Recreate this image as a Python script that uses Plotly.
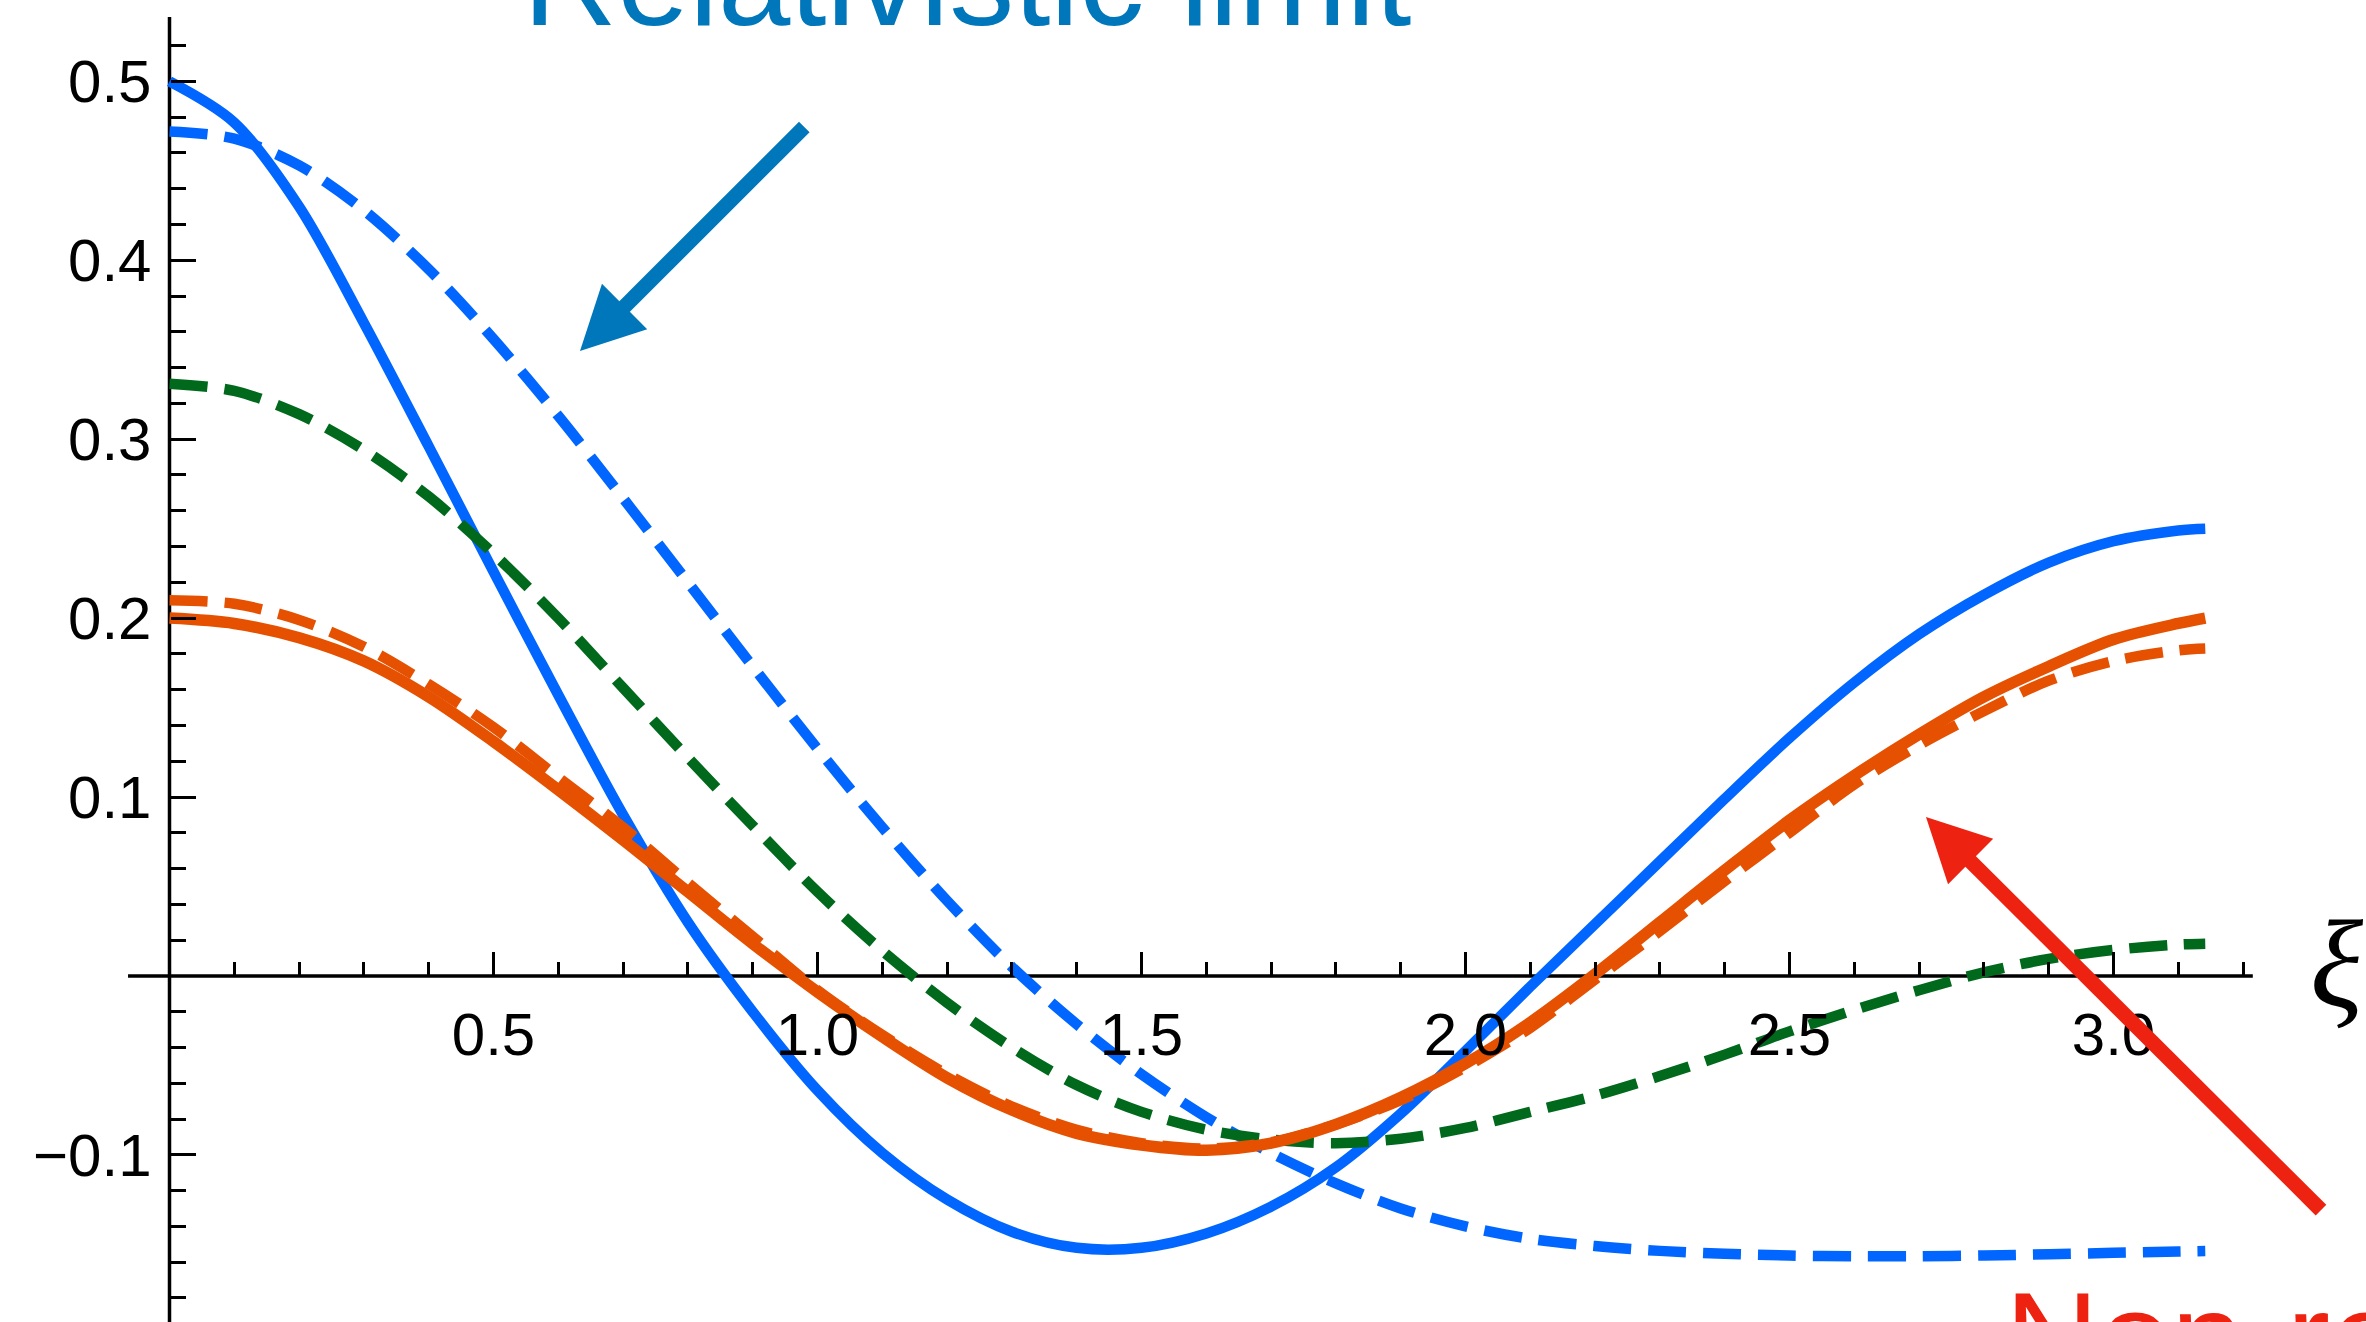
import plotly.graph_objects as go

# ---- curve data: common xi grid from 0 to pi ----
xi = [0.0, 0.1, 0.2, 0.3, 0.4, 0.5, 0.6, 0.7, 0.8, 0.9,
      1.0, 1.1, 1.2, 1.3, 1.4, 1.5, 1.6, 1.7, 1.8, 1.9,
      2.0, 2.1, 2.2, 2.3, 2.4, 2.5, 2.6, 2.7, 2.8, 2.9,
      3.0, 3.1, 3.1416]

f_rel_solid = [0.500, 0.477, 0.430, 0.365, 0.296, 0.226, 0.157, 0.090, 0.030, -0.020,
               -0.064, -0.099, -0.125, -0.143, -0.152, -0.152, -0.144, -0.129, -0.107, -0.077,
               -0.042, -0.006, 0.029, 0.064, 0.099, 0.133, 0.164, 0.191, 0.213, 0.231,
               0.243, 0.249, 0.250]

f_rel_dash = [0.472, 0.468, 0.453, 0.428, 0.395, 0.356, 0.313, 0.267, 0.220, 0.173,
              0.127, 0.083, 0.042, 0.005, -0.027, -0.055, -0.079, -0.099, -0.116, -0.130,
              -0.140, -0.147, -0.151, -0.1537, -0.1553, -0.1563, -0.1567, -0.1567, -0.1563, -0.1556,
              -0.1548, -0.1541, -0.1538]

f_mid_dash = [0.331, 0.327, 0.314, 0.294, 0.268, 0.236, 0.200, 0.161, 0.122, 0.084,
              0.047, 0.014, -0.015, -0.040, -0.061, -0.076, -0.086, -0.0915, -0.0935, -0.091,
              -0.085, -0.076, -0.067, -0.056, -0.044, -0.031, -0.019, -0.008, 0.002, 0.0095,
              0.0145, 0.0175, 0.018]

f_nr_solid = [0.200, 0.197, 0.189, 0.176, 0.156, 0.131, 0.104, 0.076, 0.047, 0.018,
              -0.009, -0.034, -0.057, -0.075, -0.088, -0.0945, -0.0975, -0.0935, -0.083, -0.068,
              -0.049, -0.026, 0.001, 0.030, 0.059, 0.087, 0.112, 0.135, 0.156, 0.173,
              0.188, 0.197, 0.200]

f_nr_dash = [0.210, 0.208, 0.199, 0.184, 0.163, 0.139, 0.111, 0.083, 0.052, 0.022,
             -0.008, -0.033, -0.055, -0.073, -0.086, -0.0935, -0.0965, -0.093, -0.083, -0.0695,
             -0.051, -0.029, -0.002, 0.025, 0.053, 0.080, 0.107, 0.129, 0.148, 0.165,
             0.176, 0.182, 0.183]

# ---- tick positions and labels ----
x_major = [0.5, 1.0, 1.5, 2.0, 2.5, 3.0]
x_major_text = ["0.5", "1.0", "1.5", "2.0", "2.5", "3.0"]
y_major = [-0.1, 0.1, 0.2, 0.3, 0.4, 0.5]
y_major_text = ["\u22120.1", "0.1", "0.2", "0.3", "0.4", "0.5"]
x_minor = [k / 10 for k in range(1, 33) if k % 5 != 0]
y_minor = [k / 50 for k in range(-9, 27) if k % 5 != 0]

# ---- canvas geometry ----
W, H = 2366, 1322
X0_PX, X_SCALE = 169.5, 648.0      # pixel column of xi=0, pixels per unit
Y0_PX, Y_SCALE = 975.9, 1789.0     # pixel row of value 0, pixels per unit
x_range = [-X0_PX / X_SCALE, (W - X0_PX) / X_SCALE]
y_range = [-(H - Y0_PX) / Y_SCALE, Y0_PX / Y_SCALE]


def to_px(x, y):
    return X0_PX + X_SCALE * x, Y0_PX - Y_SCALE * y


def to_data(px, py):
    return (px - X0_PX) / X_SCALE, (Y0_PX - py) / Y_SCALE


BLUE = "#0066FF"
GREEN = "#00691C"
ORANGE = "#E55100"
ARROW_BLUE = "#0077BB"
ARROW_RED = "#EE2211"
DASH = "38px,17px"

fig = go.Figure()
series = [
    (f_rel_solid, BLUE, "solid", 10.5),
    (f_rel_dash, BLUE, DASH, 10.5),
    (f_mid_dash, GREEN, DASH, 10.5),
    (f_nr_solid, ORANGE, "solid", 11.5),
    (f_nr_dash, ORANGE, DASH, 10.5),
]
for ys, col, dash, lw in series:
    fig.add_trace(go.Scatter(
        x=xi, y=ys, mode="lines",
        line=dict(color=col, width=lw, dash=dash, shape="spline", smoothing=0.9),
        hoverinfo="skip", showlegend=False, cliponaxis=False,
    ))

shapes = []
# axes crossing at the origin
shapes.append(dict(type="line", xref="x", yref="y", x0=-0.064, x1=3.215, y0=0, y1=0,
                   line=dict(color="black", width=3.5), layer="below"))
shapes.append(dict(type="line", xref="x", yref="y", x0=0, x1=0, y0=y_range[0], y1=0.536,
                   line=dict(color="black", width=3.5), layer="below"))


def arrow(tail, tip, color, shaft=15, head_len=63, head_half=32):
    tx, ty = to_px(*tail)
    hx, hy = to_px(*tip)
    dx, dy = hx - tx, hy - ty
    L = (dx * dx + dy * dy) ** 0.5
    ux, uy = dx / L, dy / L
    bx, by = hx - ux * head_len, hy - uy * head_len
    nx, ny = -uy, ux
    sx, sy = hx - ux * (head_len - 6), hy - uy * (head_len - 6)
    a = to_data(tx, ty)
    b = to_data(sx, sy)
    out = [dict(type="line", xref="x", yref="y", x0=a[0], y0=a[1], x1=b[0], y1=b[1],
                line=dict(color=color, width=shaft))]
    p1 = to_data(hx, hy)
    p2 = to_data(bx + nx * head_half, by + ny * head_half)
    p3 = to_data(bx - nx * head_half, by - ny * head_half)
    path = f"M {p1[0]},{p1[1]} L {p2[0]},{p2[1]} L {p3[0]},{p3[1]} Z"
    out.append(dict(type="path", xref="x", yref="y", path=path,
                    fillcolor=color, line=dict(color=color, width=0)))
    return out


shapes += arrow((0.9796, 0.4745), (0.6335, 0.3493), ARROW_BLUE)
shapes += arrow((3.3202, -0.1309), (2.7106, 0.0888), ARROW_RED)

annotations = [
    dict(text="Relativistic limit", xref="paper", yref="paper",
         x=521 / W, y=1 - (26 + 0.212 * 130 + 1) / H, xanchor="left", yanchor="bottom",
         showarrow=False, font=dict(family="Liberation Sans, Arial", size=130, color=ARROW_BLUE)),
    dict(text="Non-relativistic limit", xref="paper", yref="paper",
         x=2003 / W, y=1 - 1263 / H, xanchor="left", yanchor="top",
         showarrow=False, font=dict(family="Liberation Sans, Arial", size=130, color=ARROW_RED)),
    dict(text="<i>\u03be</i>", xref="paper", yref="paper",
         x=2336.5 / W, y=1 - 964 / H, xanchor="center", yanchor="middle",
         showarrow=False, font=dict(family="Liberation Serif, Times New Roman", size=124, color="black")),
]

tick_font = dict(family="Liberation Sans, Arial", size=60, color="black")
fig.update_layout(
    width=W, height=H,
    margin=dict(l=0, r=0, t=0, b=0),
    paper_bgcolor="white", plot_bgcolor="white",
    showlegend=False,
    xaxis=dict(
        domain=[0, 1], range=x_range, anchor="free",
        position=(0 - y_range[0]) / (y_range[1] - y_range[0]),
        showgrid=False, zeroline=False, showline=False,
        tickmode="array", tickvals=x_major, ticktext=x_major_text,
        ticks="inside", ticklen=24, tickwidth=2.5, tickcolor="black",
        tickfont=tick_font, ticklabelstandoff=18,
        minor=dict(tickmode="array", tickvals=x_minor, ticks="inside", ticklen=14,
                   tickwidth=2.5, tickcolor="black", showgrid=False),
    ),
    yaxis=dict(
        domain=[0, 1], range=y_range, anchor="free",
        position=(0 - x_range[0]) / (x_range[1] - x_range[0]),
        showgrid=False, zeroline=False, showline=False,
        tickmode="array", tickvals=y_major, ticktext=y_major_text,
        ticks="inside", ticklen=25, tickwidth=2.5, tickcolor="black",
        tickfont=tick_font, ticklabelstandoff=18,
        minor=dict(tickmode="array", tickvals=y_minor, ticks="inside", ticklen=15,
                   tickwidth=2.5, tickcolor="black", showgrid=False),
    ),
    shapes=shapes,
    annotations=annotations,
)

fig.write_html("out.html")
